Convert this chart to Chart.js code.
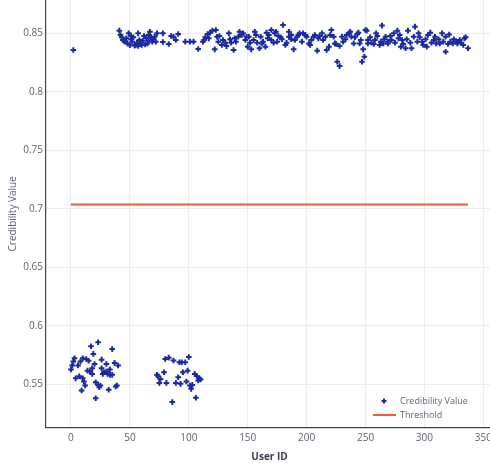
<!DOCTYPE html>
<html>
<head>
<meta charset="utf-8">
<script src="https://cdn.jsdelivr.net/npm/chart.js@4.4.1/dist/chart.umd.min.js"></script>
<style>
html,body{margin:0;padding:0;background:#fff;overflow:hidden;}
#wrap{position:relative;width:493px;height:463px;}
</style>
</head>
<body>
<div id="wrap"><canvas id="c" width="493" height="463"></canvas></div>
<script>
// ---- data ----
const userIds = [
  // low group 1
  0,1,2,3,6,8,10,4,7,9,10,11,12,13,15,14,16,17,18,18,19,20,21,23,23,24,25,26,26,27,28,30,30,31,32,33,33,35,35,37,38,39,40,21,
  // low group 2
  73,74,75,76,79,80,81,83,87,89,91,92,93,94,95,97,98,99,100,101,102,103,105,106,107,108,109,110,86,
  // high group
  2,
  41,42,43,44,46,47,48,49,51,51,52,53,55,56,57,58,59,60,61,62,64,65,66,67,68,69,70,71,72,73,
  45,50,54,57,63,66,
  78,78,83,85,87,89,91,97,101,104,108,112,113,114,116,117,118,120,122,123,124,125,126,128,129,
  131,132,134,135,136,138,139,140,142,143,145,146,148,149,150,
  151,152,153,155,156,157,158,160,161,162,163,165,166,167,168,170,170,172,173,174,175,176,178,179,
  180,182,183,185,185,187,187,189,190,192,193,194,196,197,199,200,202,203,204,206,207,209,210,211,
  213,214,216,217,219,220,221,223,224,225,226,228,228,230,231,233,234,236,237,238,240,241,243,244,
  245,246,247,248,249,250,251,252,252,254,255,257,258,259,260,262,263,264,265,266,267,269,269,271,
  272,274,275,277,278,279,280,281,282,284,285,286,288,289,291,292,294,295,296,298,299,301,302,303,
  305,306,308,309,310,312,313,315,316,318,318,320,321,322,324,325,327,328,330,331,333,334,335,337
];
const credibilityValues = [
  .5625,.566,.5693,.5722,.566,.5693,.5722,.555,.5568,.5446,.555,.5523,.5489,.5716,.570,.5616,.5608,.5824,.5636,.5588,.5759,.5673,.5517,.5858,.5494,.5474,.5489,.571,.5636,.5588,.5602,.5673,.5608,.5588,.5452,.558,.5625,.558,.580,.5682,.548,.5489,.566,.538,
  .558,.5568,.5511,.5545,.5602,.5716,.5511,.5727,.5702,.5511,.556,.5688,.5503,.5688,.5602,.5688,.5523,.5616,.5733,.5489,.546,.5494,.5588,.5384,.5568,.5531,.555,.554,.5347,
  .8358,
  .8523,.8486,.8466,.8443,.8429,.8457,.8414,.85,.8449,.8477,.8429,.8466,.84,.842,.85,.8443,.8414,.84,.8437,.8477,.8457,.8414,.8486,.8514,.8466,.8429,.8449,.8471,.8429,.85,
  .8438,.8398,.8395,.8392,.8404,.8436,
  .85,.8426,.8409,.8477,.8471,.8443,.8494,.8429,.8429,.8429,.8366,.8429,.8443,.8466,.8494,.8457,.8506,.8523,.8363,.8529,.8471,.8429,.8477,.84,.8443,
  .842,.8391,.85,.8449,.842,.8357,.8457,.8429,.8471,.8514,.8486,.85,.8443,.8471,.8386,
  .8471,.8420,.8363,.8443,.8514,.8486,.8420,.8372,.8471,.8414,.8429,.8386,.8506,.8457,.8486,.8529,.8443,.8420,.8500,.8514,.8429,.8477,.8466,.8449,
  .8571,.8400,.8420,.8514,.8471,.8449,.8486,.8363,.8443,.8471,.8486,.8500,.8429,.8500,.8486,.8471,.8414,.8400,.8443,.8471,.8486,.8352,.8457,.8477,
  .8500,.8443,.8471,.8357,.8386,.8486,.8529,.8471,.8414,.8409,.8257,.8220,.8392,.8471,.8429,.8449,.8486,.8500,.8514,.8471,.8414,.8466,.8494,.8506,
  .8414,.8443,.8257,.8363,.8300,.8529,.8523,.8414,.8443,.8466,.8420,.8409,.8443,.8500,.8477,.8400,.8429,.8566,.8414,.8449,.8471,.8429,.8414,.8477,
  .8443,.8500,.8420,.8523,.8457,.8486,.8386,.8443,.8409,.8372,.8449,.8523,.8420,.8372,.8471,.8557,.8429,.8500,.8466,.8429,.8400,.8449,.8386,.8486,
  .8506,.8420,.8443,.8471,.8414,.8449,.8414,.8500,.8429,.8471,.8343,.8409,.8489,.8429,.8414,.8449,.8429,.8414,.8443,.8420,.8400,.8457,.8466,.8372
];
const thresholdIds = [0, 337];
const thresholdValues = [0.7037, 0.7037];
const xTickValues = [0, 50, 100, 150, 200, 250, 300, 350];
const yTickValues = [0.55, 0.6, 0.65, 0.7, 0.75, 0.8, 0.85];
const seriesNames = ['Credibility Value', 'Threshold'];

// ---- styles ----
const POINT_COLOR = '#1b2aa0';
const LINE_COLOR = '#ef5a3c';
const GRID = '#ebedf5';
const AXIS = '#444444';
const TICK_COLOR = '#5d6474';
const FONT = '"Open Sans", "Noto Sans", sans-serif';

const pointData = userIds.map((x, i) => ({x: x, y: credibilityValues[i]}));
const lineData = thresholdIds.map((x, i) => ({x: x, y: thresholdValues[i]}));

const legendPlugin = {
  id: 'customLegend',
  afterDraw(chart) {
    const ctx = chart.ctx;
    ctx.save();
    const mx = 384, my = 401;
    ctx.strokeStyle = POINT_COLOR;
    ctx.lineWidth = 2;
    ctx.beginPath();
    ctx.moveTo(mx - 2.5, my); ctx.lineTo(mx + 2.5, my);
    ctx.moveTo(mx, my - 2.5); ctx.lineTo(mx, my + 2.5);
    ctx.stroke();
    ctx.strokeStyle = LINE_COLOR;
    ctx.lineWidth = 2;
    ctx.beginPath();
    ctx.moveTo(373, 415); ctx.lineTo(396, 415);
    ctx.stroke();
    ctx.fillStyle = TICK_COLOR;
    ctx.font = '9px ' + FONT;
    ctx.textBaseline = 'middle';
    ctx.textAlign = 'left';
    ctx.fillText(seriesNames[0], 400, 401);
    ctx.fillText(seriesNames[1], 400, 415);
    ctx.restore();
  }
};

function noPad(s) { s.paddingTop = 0; s.paddingBottom = 0; s.paddingLeft = 0; s.paddingRight = 0; }

new Chart(document.getElementById('c'), {
  type: 'scatter',
  data: {
    datasets: [
      {
        label: seriesNames[0],
        data: pointData,
        pointStyle: 'cross',
        pointRadius: 2.8,
        pointHoverRadius: 2.8,
        pointBorderWidth: 2,
        borderColor: POINT_COLOR,
        backgroundColor: POINT_COLOR,
        order: 1
      },
      {
        label: seriesNames[1],
        data: lineData,
        showLine: true,
        pointRadius: 0,
        borderColor: LINE_COLOR,
        borderWidth: 2,
        order: 2
      }
    ]
  },
  options: {
    responsive: false,
    animation: false,
    layout: {autoPadding: false, padding: {left: 0, right: 0, top: 0, bottom: 0}},
    plugins: {legend: {display: false}, tooltip: {enabled: false}},
    scales: {
      x: {
        type: 'linear',
        min: -21.2,
        max: 358.2,
        afterBuildTicks: (s) => { s.ticks = xTickValues.map(v => ({value: v})); },
        afterFit: (s) => { s.height = 35.3; noPad(s); },
        grid: {color: GRID, drawTicks: false, lineWidth: 1},
        border: {display: true, color: AXIS, width: 1.2},
        ticks: {color: TICK_COLOR, font: {family: FONT, size: 10}, padding: 4, maxRotation: 0},
        title: {display: true, text: 'User ID', color: '#3b404c', font: {family: FONT, size: 10, weight: 'bold'}, padding: {top: 0, bottom: 0}}
      },
      y: {
        type: 'linear',
        min: 0.5128,
        max: 0.8785,
        afterBuildTicks: (s) => { s.ticks = yTickValues.map(v => ({value: v})); },
        afterFit: (s) => { s.width = 46; noPad(s); },
        grid: {color: GRID, drawTicks: false, lineWidth: 1},
        border: {display: true, color: AXIS, width: 1.2},
        ticks: {color: TICK_COLOR, font: {family: FONT, size: 10}, padding: 3,
          callback: (v) => String(Math.round(v * 100) / 100)},
        title: {display: true, text: 'Credibility Value', color: TICK_COLOR, font: {family: FONT, size: 10}, padding: {top: 7, bottom: 0}}
      }
    }
  },
  plugins: [legendPlugin]
});
</script>
</body>
</html>
